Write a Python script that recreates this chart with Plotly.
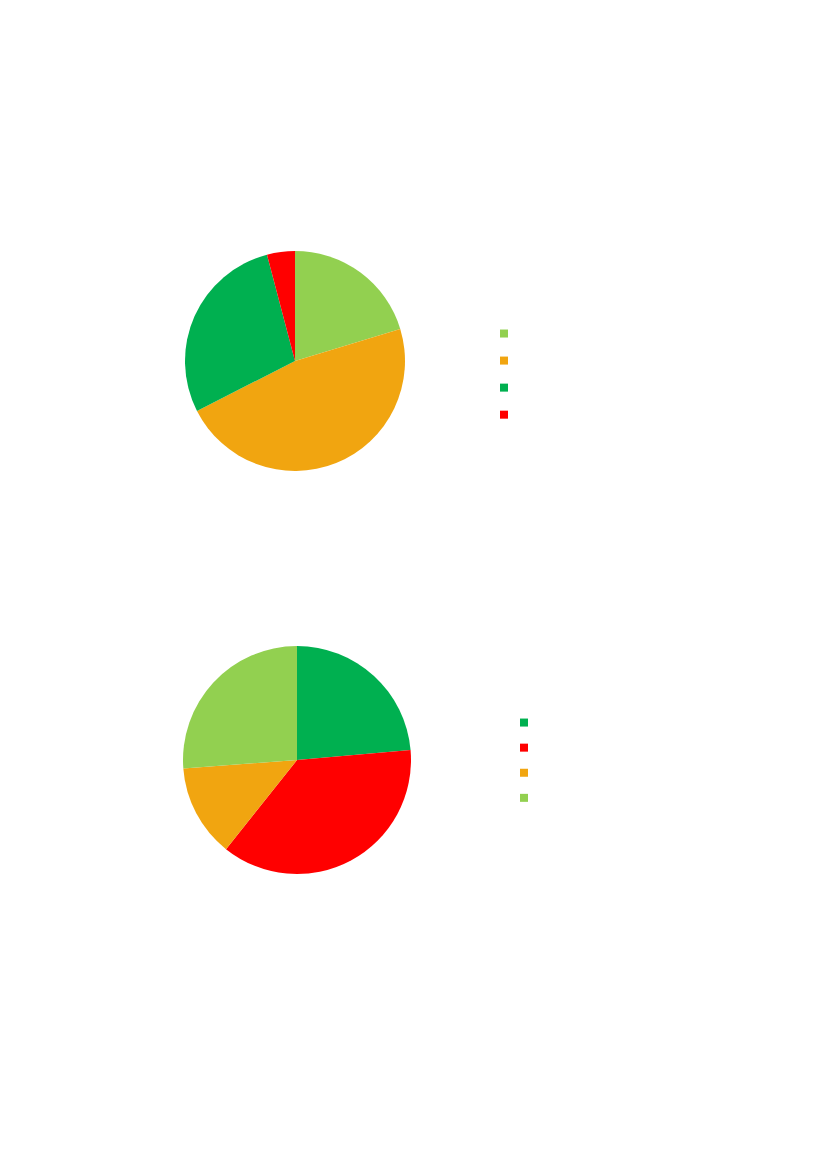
import plotly.graph_objects as go

# slice values (percent), read clockwise from 12 o'clock
labels_1 = ["Cat A", "Cat B", "Cat C", "Cat D"]
values_1 = [20.3, 47.2, 28.4, 4.1]
colors_1 = ["#92D050", "#F1A510", "#00B050", "#FF0000"]

labels_2 = ["Cat E", "Cat F", "Cat G", "Cat H"]
values_2 = [23.6, 37.1, 13.1, 26.2]
colors_2 = ["#00B050", "#FF0000", "#F1A510", "#92D050"]

W, H = 827, 1169
OFF = 8  # page body margin

fig = go.Figure()

# pie 1: centre (295, 361), r=110 (page coords)
fig.add_trace(go.Pie(
    labels=labels_1, values=values_1,
    marker=dict(colors=colors_1, line=dict(width=0)),
    sort=False, direction="clockwise", rotation=0,
    textinfo="none", hoverinfo="label+percent",
    showlegend=False,
    domain=dict(x=[(185 - OFF) / W, (405 - OFF) / W],
                y=[1 - (471 - OFF) / H, 1 - (251 - OFF) / H]),
))

# pie 2: centre (297, 760), r=114
fig.add_trace(go.Pie(
    labels=labels_2, values=values_2,
    marker=dict(colors=colors_2, line=dict(width=0)),
    sort=False, direction="clockwise", rotation=0,
    textinfo="none", hoverinfo="label+percent",
    showlegend=False,
    domain=dict(x=[(183 - OFF) / W, (411 - OFF) / W],
                y=[1 - (874 - OFF) / H, 1 - (646 - OFF) / H]),
))

# legend swatches as small squares
for lab, col in zip(labels_1, colors_1):
    fig.add_trace(go.Scatter(
        x=[None], y=[None], mode="markers", name=lab,
        marker=dict(symbol="square", size=8, color=col),
        legend="legend",
    ))
for lab, col in zip(labels_2, colors_2):
    fig.add_trace(go.Scatter(
        x=[None], y=[None], mode="markers", name=lab,
        marker=dict(symbol="square", size=8, color=col),
        legend="legend2",
    ))

fig.update_layout(
    width=W, height=H,
    margin=dict(l=0, r=0, t=0, b=0),
    paper_bgcolor="white", plot_bgcolor="white",
    xaxis=dict(visible=False), yaxis=dict(visible=False),
    legend=dict(
        x=(504 - 28) / W, xanchor="left",
        y=1 - 307 / H, yanchor="top",
        font=dict(size=18.5, color="white"),
        bgcolor="rgba(0,0,0,0)",
    ),
    legend2=dict(
        x=(524 - 28) / W, xanchor="left",
        y=1 - 697 / H, yanchor="top",
        font=dict(size=17, color="white"),
        bgcolor="rgba(0,0,0,0)",
    ),
)

fig.write_html("out.html")
